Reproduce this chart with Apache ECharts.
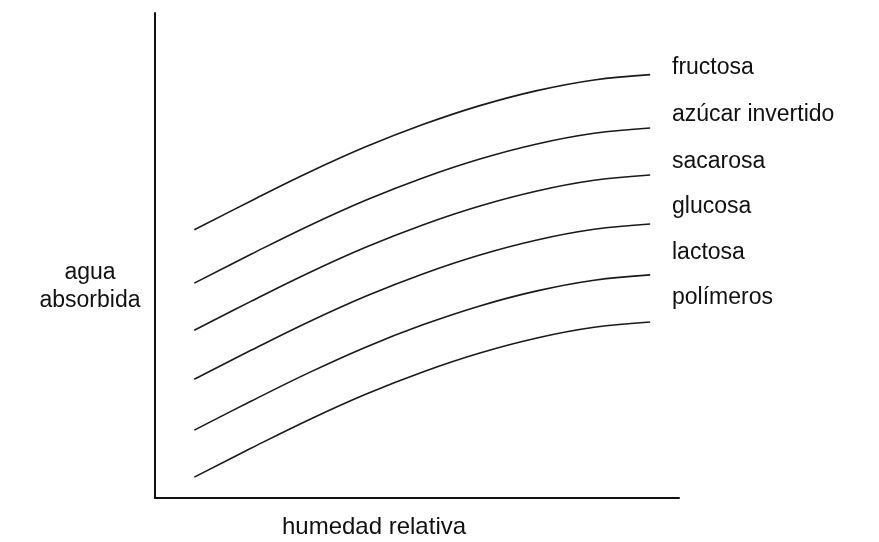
<!DOCTYPE html>
<html>
<head>
<meta charset="utf-8">
<script src="https://cdn.jsdelivr.net/npm/echarts@6/dist/echarts.min.js"></script>
<style>html,body{margin:0;padding:0;background:#fff}#c{width:879px;height:542px}</style>
</head>
<body>
<div id="c"></div>
<script>
var humedad = [7.5, 18.4, 29.3, 40.2, 51.1, 62, 72.9, 83.8, 94.5];
var names = ['fructosa', 'azúcar invertido', 'sacarosa', 'glucosa', 'lactosa', 'polímeros'];
var fructosa  = [55.3, 61.3, 67.1, 72.4, 77.0, 80.9, 84.0, 86.2, 87.3];
var azucar    = [44.3, 50.3, 56.1, 61.4, 66.0, 69.9, 73.0, 75.2, 76.3];
var sacarosa  = [34.6, 40.6, 46.4, 51.7, 56.3, 60.2, 63.3, 65.5, 66.6];
var glucosa   = [24.5, 30.5, 36.3, 41.6, 46.2, 50.1, 53.2, 55.4, 56.5];
var lactosa   = [14.0, 20.0, 25.8, 31.1, 35.7, 39.6, 42.7, 44.9, 46.0];
var polimeros = [4.3, 10.3, 16.1, 21.4, 26.0, 29.9, 33.0, 35.2, 36.3];
var allSeries = [fructosa, azucar, sacarosa, glucosa, lactosa, polimeros];

var FONT = 'Liberation Sans, Arial, sans-serif';
var labelY = [68, 115, 162, 207, 253, 298];

var chart = echarts.init(document.getElementById('c'), null, {renderer: 'canvas'});
var series = allSeries.map(function (vals, i) {
  return {
    name: names[i],
    type: 'line',
    smooth: 0.4,
    symbol: 'none',
    lineStyle: {color: '#1a1a1a', width: 1.6},
    data: vals.map(function (v, j) { return [humedad[j], v]; })
  };
});
var graphics = names.map(function (n, i) {
  return {
    type: 'text', x: 672, y: labelY[i],
    style: {text: n, font: '23px ' + FONT, fill: '#111', verticalAlign: 'middle'}
  };
});
graphics.push({
  type: 'text', x: 90, y: 287,
  style: {text: 'agua\nabsorbida', font: '23px ' + FONT, fill: '#111', align: 'center', verticalAlign: 'middle', lineHeight: 28}
});
graphics.push({
  type: 'text', x: 374, y: 527,
  style: {text: 'humedad relativa', font: '24px ' + FONT, fill: '#111', align: 'center', verticalAlign: 'middle'}
});

chart.setOption({
  animation: false,
  backgroundColor: '#fff',
  grid: {left: 155, right: 200, top: 13, bottom: 44},
  xAxis: {
    type: 'value', min: 0, max: 100,
    axisLine: {show: true, onZero: false, lineStyle: {color: '#111', width: 2}},
    axisTick: {show: false}, axisLabel: {show: false}, splitLine: {show: false}
  },
  yAxis: {
    type: 'value', min: 0, max: 100,
    axisLine: {show: true, onZero: false, lineStyle: {color: '#111', width: 2}},
    axisTick: {show: false}, axisLabel: {show: false}, splitLine: {show: false}
  },
  series: series,
  graphic: graphics
});
</script>
</body>
</html>
